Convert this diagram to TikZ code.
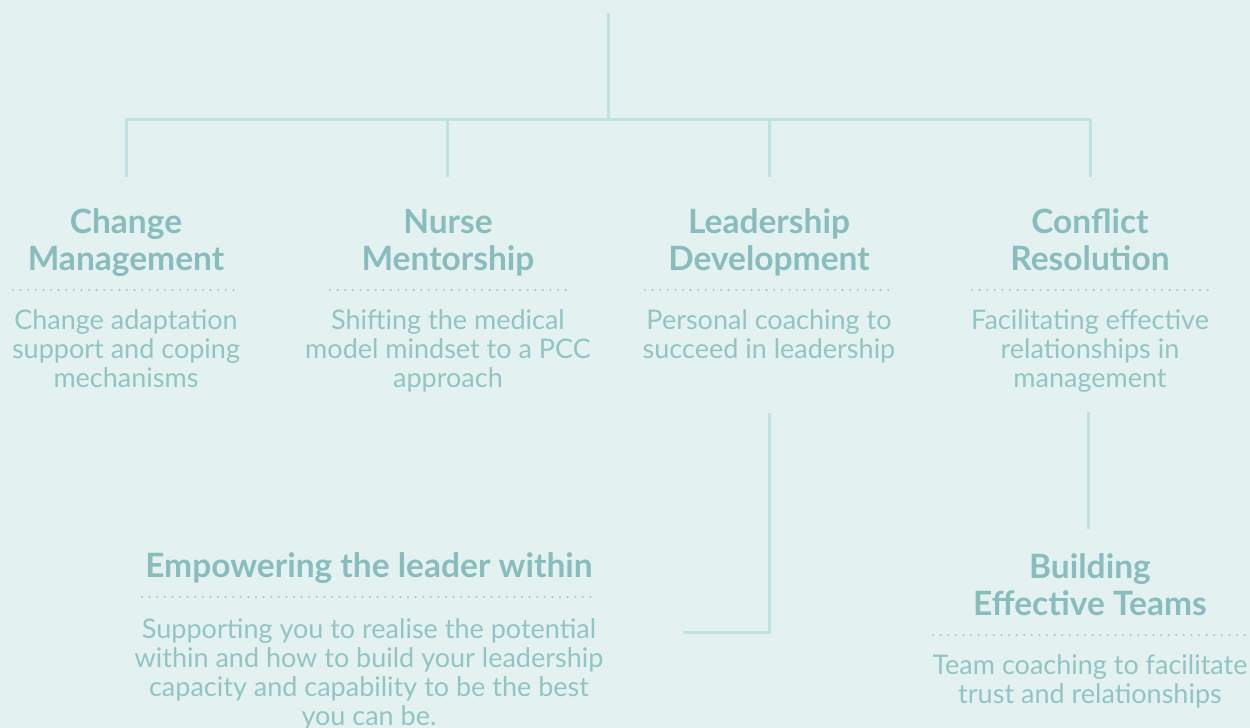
\documentclass[tikz,border=0pt]{standalone}
\usepackage{fontspec}
\setmainfont{Lato}
\definecolor{bgc}{HTML}{E3F2F1}
\definecolor{headc}{HTML}{89BCBC}
\definecolor{bodyc}{HTML}{93C4C4}
\definecolor{linec}{HTML}{BDE3E3}
\definecolor{dotc}{HTML}{A3CACA}
% multi-line nodes sit on the baseline of their last line
\tikzset{
  head/.style={anchor=base, align=center, inner sep=0pt, text=headc,
    font=\fontsize{33.5}{37}\selectfont\bfseries},
  body/.style={anchor=base, align=center, inner sep=0pt, text=bodyc,
    font=\fontsize{27}{28.8}\selectfont},
  link/.style={draw=linec, line width=3pt},
  dotrule/.style={draw=dotc, line width=2.3pt, line cap=round,
    dash pattern=on 0pt off 7.6pt},
}
\begin{document}
\begin{tikzpicture}[x=1pt,y=-1pt]
\fill[bgc] (0,0) rectangle (1250,728);
\useasboundingbox (0,0) rectangle (1250,728);

% tree connectors
\coordinate (root) at (608,13);
\coordinate (hub) at (608,119);
\coordinate (busl) at (126,119);
\coordinate (busr) at (1090,119);
\coordinate (j2) at (447,119);
\coordinate (j3) at (769,119);
\coordinate (e1) at (126,177);
\coordinate (e2) at (447,177);
\coordinate (e3) at (769,177);
\coordinate (e4) at (1090,177);
\draw[link] (root) -- (hub);
\draw[link] (busl) -- (busr);
\draw[link] (busl) -- (e1);
\draw[link] (j2) -- (e2);
\draw[link] (j3) -- (e3);
\draw[link] (busr) -- (e4);

\coordinate (ls) at (769,413);
\coordinate (lc) at (769,632);
\coordinate (le) at (683,632);
\draw[link] (ls) -- (lc) -- (le);
\coordinate (cs) at (1088,412);
\coordinate (ce) at (1088,529);
\draw[link] (cs) -- (ce);

% column 1
\node[head] (t1) at (126,270) {Change\\Management};
\draw[dotrule] (13,290) -- (240,290);
\node[body] (b1) at (126,387) {Change adaptation\\support and coping\\mechanisms};

% column 2
\node[head] (t2) at (448,270) {Nurse\\Mentorship};
\draw[dotrule] (330,290) -- (566,290);
\node[body] (b2) at (448,387) {Shifting the medical\\model mindset to a PCC\\approach};

% column 3
\node[head] (t3) at (769,270) {Leadership\\Development};
\draw[dotrule] (645,290) -- (893,290);
\node[body] (b3) at (769,358) {Personal coaching to\\succeed in leadership};

% column 4
\node[head] (t4) at (1090,270) {Conflict\\Resolution};
\draw[dotrule] (972,290) -- (1208,290);
\node[body] (b4) at (1090,387) {Facilitating effective\\relationships in\\management};

% lower left
\node[head] (te) at (369,577) {Empowering the leader within};
\draw[dotrule] (142,597) -- (595,597);
\node[body] (be) at (369,725) {Supporting you to realise the potential\\within and how to build your leadership\\capacity and capability to be the best\\you can be.};

% lower right
\node[head] (tb) at (1090,615) {Building\\Effective Teams};
\draw[dotrule] (933,635) -- (1250,635);
\node[body] (bb) at (1090,703) {Team coaching to facilitate\\trust and relationships};
\end{tikzpicture}
\end{document}
